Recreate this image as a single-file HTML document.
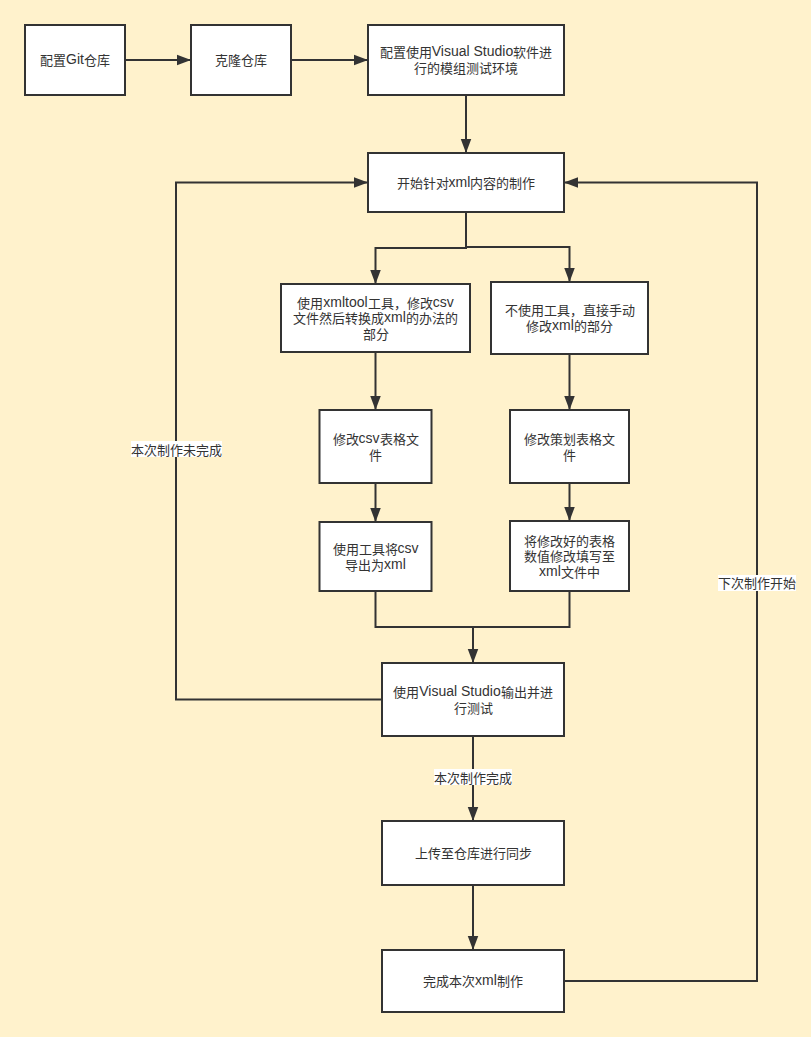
<!DOCTYPE html>
<html lang="zh-CN">
<head>
<meta charset="utf-8">
<title>xml制作流程图</title>
<style>
html,body{margin:0;padding:0;}
body{width:811px;height:1037px;background:#fff2cc;position:relative;overflow:hidden;font-family:"Liberation Sans",sans-serif;}
svg{position:absolute;left:0;top:0;}
.t{position:absolute;display:flex;align-items:center;justify-content:center;text-align:center;font-size:13px;line-height:15.6px;color:#333;white-space:nowrap;}
.t p{margin:0;}
.lb{position:absolute;font-size:13px;line-height:16px;color:#333;white-space:nowrap;text-align:center;}
.c{display:inline-block;width:13px;text-align:center;}
.l{font-size:14px;position:relative;top:-1px;}
</style>
</head>
<body>
<svg width="811" height="1037" viewBox="0 0 811 1037">
<g fill="none" stroke="#333" stroke-width="2" stroke-linejoin="miter" stroke-linecap="butt">
<path d="M125 60L191 60"/>
<path d="M291 60L368 60"/>
<path d="M466 95L466 153"/>
<path d="M466 212L466 248L375.5 248L375.5 284"/>
<path d="M466 212L466 247L569.5 247L569.5 282"/>
<path d="M375.5 352L375.5 410"/>
<path d="M569.5 354L569.5 410"/>
<path d="M375.5 483L375.5 522"/>
<path d="M569.5 483L569.5 521"/>
<path d="M375.5 591L375.5 627L473 627L473 663"/>
<path d="M569.5 591L569.5 627L473 627"/>
<path d="M382 699.5L176 699.5L176 182.5L368 182.5"/>
<path d="M473 736L473 821"/>
<path d="M473 885L473 950"/>
<path d="M564 981L757 981L757 182.5L564 182.5"/>
</g>
<g fill="#fff" stroke="#333" stroke-width="2">
<rect x="25" y="25" width="100" height="70"/>
<rect x="191" y="25" width="100" height="70"/>
<rect x="368" y="25" width="196" height="70"/>
<rect x="368" y="153" width="196" height="59"/>
<rect x="281" y="284" width="189" height="68"/>
<rect x="491" y="282" width="157" height="72"/>
<rect x="319.5" y="410" width="112" height="73"/>
<rect x="510" y="410" width="119" height="73"/>
<rect x="319.5" y="522" width="112" height="69"/>
<rect x="510" y="521" width="119" height="70"/>
<rect x="382" y="663" width="182" height="73"/>
<rect x="382" y="821" width="182" height="64"/>
<rect x="382" y="950" width="182" height="62"/>
</g>
<g fill="#333">
<path d="M177 54.75L191 60L177 65.25Z"/>
<path d="M354 54.75L368 60L354 65.25Z"/>
<path d="M460.75 139L466 153L471.25 139Z"/>
<path d="M370.25 270L375.5 284L380.75 270Z"/>
<path d="M564.25 268L569.5 282L574.75 268Z"/>
<path d="M370.25 396L375.5 410L380.75 396Z"/>
<path d="M564.25 396L569.5 410L574.75 396Z"/>
<path d="M370.25 508L375.5 522L380.75 508Z"/>
<path d="M564.25 507L569.5 521L574.75 507Z"/>
<path d="M467.75 649L473 663L478.25 649Z"/>
<path d="M354 177.25L368 182.5L354 187.75Z"/>
<path d="M467.75 807L473 821L478.25 807Z"/>
<path d="M467.75 936L473 950L478.25 936Z"/>
<path d="M578 177.25L564 182.5L578 187.75Z"/>
</g>
<rect x="131" y="441" width="91" height="16" fill="#fff"/>
<rect x="434" y="769" width="78" height="16" fill="#fff"/>
<rect x="718" y="575" width="78" height="16" fill="#fff"/>
</svg>
<div class="t" style="left:25px;top:26px;width:100px;height:70px;"><p><span class="c">配</span><span class="c">置</span><span class="l">Git</span><span class="c">仓</span><span class="c">库</span></p></div>
<div class="t" style="left:191px;top:26px;width:100px;height:70px;"><p><span class="c">克</span><span class="c">隆</span><span class="c">仓</span><span class="c">库</span></p></div>
<div class="t" style="left:368px;top:26px;width:196px;height:70px;"><p><span class="c">配</span><span class="c">置</span><span class="c">使</span><span class="c">用</span><span class="l">Visual Studio</span><span class="c">软</span><span class="c">件</span><span class="c">进</span><br><span class="c">行</span><span class="c">的</span><span class="c">模</span><span class="c">组</span><span class="c">测</span><span class="c">试</span><span class="c">环</span><span class="c">境</span></p></div>
<div class="t" style="left:368px;top:154px;width:196px;height:59px;"><p><span class="c">开</span><span class="c">始</span><span class="c">针</span><span class="c">对</span><span class="l">xml</span><span class="c">内</span><span class="c">容</span><span class="c">的</span><span class="c">制</span><span class="c">作</span></p></div>
<div class="t" style="left:281px;top:285px;width:189px;height:68px;"><p><span class="c">使</span><span class="c">用</span><span class="l">xmltool</span><span class="c">工</span><span class="c">具</span><span class="c">，</span><span class="c">修</span><span class="c">改</span><span class="l">csv</span><br><span class="c">文</span><span class="c">件</span><span class="c">然</span><span class="c">后</span><span class="c">转</span><span class="c">换</span><span class="c">成</span><span class="l">xml</span><span class="c">的</span><span class="c">办</span><span class="c">法</span><span class="c">的</span><br><span class="c">部</span><span class="c">分</span></p></div>
<div class="t" style="left:491px;top:283px;width:157px;height:72px;"><p><span class="c">不</span><span class="c">使</span><span class="c">用</span><span class="c">工</span><span class="c">具</span><span class="c">，</span><span class="c">直</span><span class="c">接</span><span class="c">手</span><span class="c">动</span><br><span class="c">修</span><span class="c">改</span><span class="l">xml</span><span class="c">的</span><span class="c">部</span><span class="c">分</span></p></div>
<div class="t" style="left:319.5px;top:411px;width:112px;height:73px;"><p><span class="c">修</span><span class="c">改</span><span class="l">csv</span><span class="c">表</span><span class="c">格</span><span class="c">文</span><br><span class="c">件</span></p></div>
<div class="t" style="left:510px;top:411px;width:119px;height:73px;"><p><span class="c">修</span><span class="c">改</span><span class="c">策</span><span class="c">划</span><span class="c">表</span><span class="c">格</span><span class="c">文</span><br><span class="c">件</span></p></div>
<div class="t" style="left:319.5px;top:523px;width:112px;height:69px;"><p><span class="c">使</span><span class="c">用</span><span class="c">工</span><span class="c">具</span><span class="c">将</span><span class="l">csv</span><br><span class="c">导</span><span class="c">出</span><span class="c">为</span><span class="l">xml</span></p></div>
<div class="t" style="left:510px;top:522px;width:119px;height:70px;"><p><span class="c">将</span><span class="c">修</span><span class="c">改</span><span class="c">好</span><span class="c">的</span><span class="c">表</span><span class="c">格</span><br><span class="c">数</span><span class="c">值</span><span class="c">修</span><span class="c">改</span><span class="c">填</span><span class="c">写</span><span class="c">至</span><br><span class="l">xml</span><span class="c">文</span><span class="c">件</span><span class="c">中</span></p></div>
<div class="t" style="left:382px;top:664px;width:182px;height:73px;"><p><span class="c">使</span><span class="c">用</span><span class="l">Visual Studio</span><span class="c">输</span><span class="c">出</span><span class="c">并</span><span class="c">进</span><br><span class="c">行</span><span class="c">测</span><span class="c">试</span></p></div>
<div class="t" style="left:382px;top:822px;width:182px;height:64px;"><p><span class="c">上</span><span class="c">传</span><span class="c">至</span><span class="c">仓</span><span class="c">库</span><span class="c">进</span><span class="c">行</span><span class="c">同</span><span class="c">步</span></p></div>
<div class="t" style="left:382px;top:951px;width:182px;height:62px;"><p><span class="c">完</span><span class="c">成</span><span class="c">本</span><span class="c">次</span><span class="l">xml</span><span class="c">制</span><span class="c">作</span></p></div>
<div class="lb" style="left:131px;top:442.5px;width:91px;height:16px;"><span class="c">本</span><span class="c">次</span><span class="c">制</span><span class="c">作</span><span class="c">未</span><span class="c">完</span><span class="c">成</span></div>
<div class="lb" style="left:434px;top:770.5px;width:78px;height:16px;"><span class="c">本</span><span class="c">次</span><span class="c">制</span><span class="c">作</span><span class="c">完</span><span class="c">成</span></div>
<div class="lb" style="left:718px;top:575.5px;width:78px;height:16px;"><span class="c">下</span><span class="c">次</span><span class="c">制</span><span class="c">作</span><span class="c">开</span><span class="c">始</span></div>
</body>
</html>
